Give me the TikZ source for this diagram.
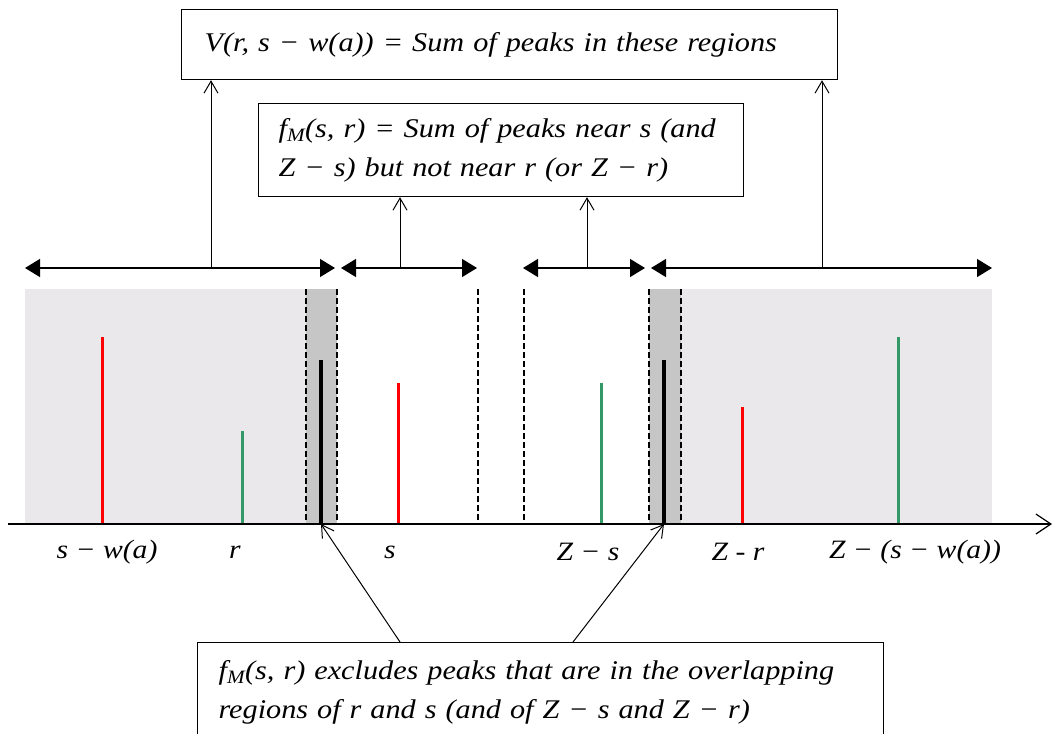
\documentclass[tikz,border=0pt]{standalone}
\usepackage{fontspec}
\setmainfont{Liberation Serif}[FakeStretch=1.12]
\usetikzlibrary{arrows.meta}
\definecolor{lightreg}{HTML}{EAE8EB}
\definecolor{darkreg}{HTML}{C6C6C6}
\definecolor{peakred}{HTML}{FF0000}
\definecolor{peakgreen}{HTML}{339966}
\begin{document}
\begin{tikzpicture}[x=1pt,y=-1pt,
 box/.style={draw, line width=1.2pt, fill=white, align=left, font=\fontsize{27}{39}\selectfont\itshape},
 bar/.style={line width=1.3pt, {Triangle[length=15pt,width=18pt]}-{Triangle[length=15pt,width=18pt]}},
 uparrow/.style={line width=1pt, -{Straight Barb[length=12pt,width=14pt]}},
 bound/.style={dash pattern=on 6pt off 3pt, line width=1.3pt},
 peak/.style={line width=3pt},
 lab/.style={font=\fontsize{26.5}{30}\selectfont\itshape}
]
\useasboundingbox (0,0) rectangle (1053,734);
\clip (0,0) rectangle (1053,734);
% regions
\fill[lightreg] (25,289) rectangle (306,524);
\fill[darkreg] (306,289) rectangle (337,524);
\fill[darkreg] (649,289) rectangle (681,524);
\fill[lightreg] (681,289) rectangle (992,524);
\foreach \x in {306,337,478,524,649,681} \draw[bound] (\x,289) -- (\x,524);
% peaks
\draw[peak, peakred] (102,524) -- (102,337);
\draw[peak, peakgreen] (242,524) -- (242,431);
\draw[peak, peakred] (398,524) -- (398,383);
\draw[peak, peakgreen] (601,524) -- (601,383);
\draw[peak, peakred] (742,524) -- (742,407);
\draw[peak, peakgreen] (898,524) -- (898,337);
\coordinate (b1) at (321,524);
\coordinate (b2) at (664,524);
\draw[line width=4pt] (b1) -- (321,360);
\draw[line width=4pt] (b2) -- (664,360);
% axis
\coordinate (ax0) at (8,524);
\coordinate (ax1) at (1052,524);
\draw[line width=1.2pt, -{Straight Barb[length=15pt,width=20pt]}] (ax0) -- (ax1);
% axis labels
\node[lab] (l1) at (107,552) {s − w(a)};
\node[lab] (l2) at (235,552) {r};
\node[lab] (l3) at (390,552) {s};
\node[lab] (l4) at (588,552) {Z − s};
\node[lab] (l5) at (738,552) {Z - r};
\node[lab] (l6) at (915,552) {Z − (s − w(a))};
% range bars
\coordinate (a1) at (25,268); \coordinate (a2) at (335,268);
\coordinate (a3) at (341,268); \coordinate (a4) at (477,268);
\coordinate (a5) at (523,268); \coordinate (a6) at (645,268);
\coordinate (a7) at (651,268); \coordinate (a8) at (992,268);
\draw[bar] (a1) -- (a2);
\draw[bar] (a3) -- (a4);
\draw[bar] (a5) -- (a6);
\draw[bar] (a7) -- (a8);
% boxes
\node[box, text width=610pt, inner xsep=23pt, minimum height=70pt, anchor=north west] (vbox) at (181,9)
  {V(r, s − w(a)) = Sum of peaks in these regions};
\node[box, text width=445pt, inner xsep=20pt, minimum height=93pt, anchor=north west] (fbox) at (258,103)
  {f\textsubscript{M}(s, r) = Sum of peaks near s (and\\Z − s) but not near r (or Z − r)};
\node[box, text width=644pt, inner xsep=21pt, minimum height=100pt, anchor=north west] (ebox) at (197,642)
  {f\textsubscript{M}(s, r) excludes peaks that are in the overlapping\\regions of r and s (and of Z − s and Z − r)};
% upward connectors
\coordinate (m1) at (211,268);
\coordinate (m2) at (400,268);
\coordinate (m3) at (587,268);
\coordinate (m4) at (822,268);
\draw[uparrow] (m1) -- (m1 |- vbox.south);
\draw[uparrow] (m4) -- (m4 |- vbox.south);
\draw[uparrow] (m2) -- (m2 |- fbox.south);
\draw[uparrow] (m3) -- (m3 |- fbox.south);
% connectors from bottom box
\coordinate (e1) at (400,642);
\coordinate (e2) at (573,642);
\draw[uparrow] (e1) -- (b1);
\draw[uparrow] (e2) -- (b2);
\end{tikzpicture}
\end{document}
